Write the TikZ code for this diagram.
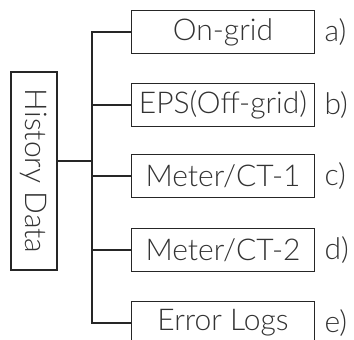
\documentclass[tikz,border=0pt]{standalone}
\usepackage{fontspec}
\setmainfont{Lato Light}
\usetikzlibrary{positioning}

\begin{document}
\begin{tikzpicture}[
  x=1pt,y=-1pt,
  every node/.style={font=\fontsize{30}{32}\selectfont,text=black!80},
  menu/.style={draw=black!85,line width=1.6pt,minimum width=183pt,
    minimum height=43pt,inner sep=0pt},
  tag/.style={right=9pt of #1.east,inner sep=0pt},
  link/.style={line width=1.6pt,black!85}]
  \path[use as bounding box] (0,0) rectangle (354,340);

  % root box, read downwards
  \node[menu,minimum width=198pt,minimum height=46pt,rotate=-90]
    (hist) at (34,171) {History Data};

  % menu entries
  \node[menu] (on)  at (223,32)  {On-grid};
  \node[menu] (eps) at (223,105) {EPS(Off-grid)};
  \node[menu] (ct1) at (223,176) {Meter/CT-1};
  \node[menu] (ct2) at (223,250) {Meter/CT-2};
  \node[menu] (err) at (223,323) {Error Logs};

  \node[tag=on]  (ta) {a)};
  \node[tag=eps] (tb) {b)};
  \node[tag=ct1] (tc) {c)};
  \node[tag=ct2] (td) {d)};
  \node[tag=err] (te) {e)};

  % tree lines
  \coordinate (trunk) at (92,0);
  \draw[link] (on.west) -- (on.west -| trunk) -- (err.west -| trunk)
    -- (err.west);
  \foreach \n in {eps,ct1,ct2}
    \draw[link] (\n.west) -- (\n.west -| trunk);
  \draw[link] ([yshift=10pt]hist.north) -- ([yshift=10pt]hist.north -| trunk);
\end{tikzpicture}
\end{document}
